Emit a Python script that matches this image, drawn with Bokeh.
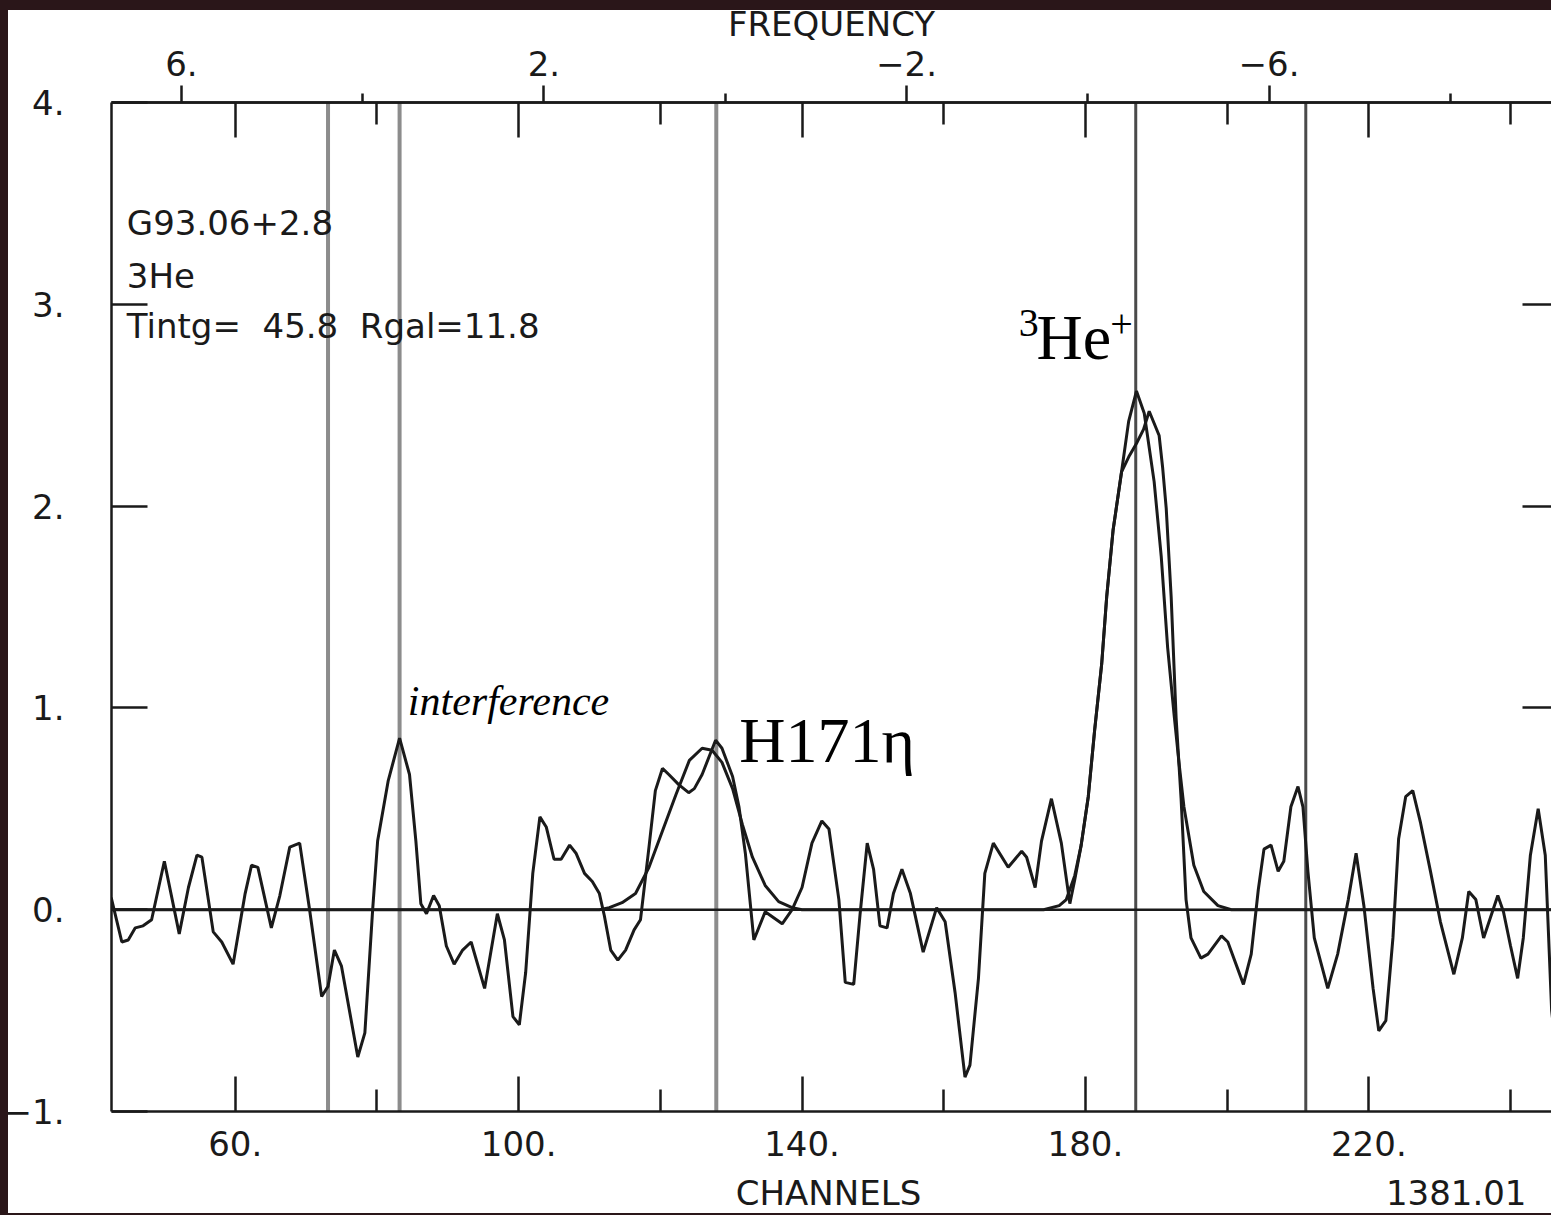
from bokeh.plotting import figure
from bokeh.models import (Range1d, LinearAxis, FixedTicker, Span, Label,
                          GlobalInlineStyleSheet)
from bokeh.embed import file_html
from bokeh.resources import INLINE

# ---------------- data ----------------
data_channel = [42.5, 44.0, 44.9, 45.9, 47.0, 48.2, 50.0, 52.1, 53.4, 54.6, 55.3, 56.9, 58.1, 59.7,
                61.4, 62.3, 63.2, 65.1, 66.3, 67.7, 69.1, 70.5, 72.2, 73.1, 74.0, 75.0, 77.3, 78.3,
                79.4, 80.1, 81.6, 83.2, 84.6, 85.5, 86.2, 87.0, 88.0, 88.8, 89.8, 90.9, 92.1, 93.3,
                95.2, 97.0, 98.0, 99.2, 100.1, 101.0, 102.0, 103.0, 103.9, 105.0, 106.0, 107.2,
                108.1, 109.3, 110.4, 111.4, 112.1, 113.0, 114.0, 115.1, 116.3, 117.2, 118.4, 119.3,
                120.3, 121.2, 122.6, 124.0, 124.8, 125.9, 127.8, 128.7, 130.2, 131.1, 132.0, 133.2,
                134.8, 137.2, 138.6, 140.0, 141.4, 142.8, 143.8, 145.2, 146.1, 147.3, 148.2, 149.2,
                150.1, 151.0, 152.0, 152.9, 154.1, 155.3, 157.1, 159.0, 160.2, 161.6, 163.0, 163.7,
                164.9, 165.8, 167.0, 169.1, 171.0, 171.7, 172.9, 173.8, 175.2, 176.6, 177.8, 178.5,
                179.4, 180.4, 181.3, 182.3, 183.0, 183.9, 185.1, 186.2, 187.2, 188.2, 189.0, 190.4,
                190.9, 191.4, 192.1, 192.8, 193.5, 194.2, 194.9, 196.3, 197.3, 199.2, 200.1, 202.3,
                203.4, 204.4, 205.2, 206.2, 207.2, 208.0, 209.0, 210.0, 210.7, 211.4, 212.3, 214.2,
                215.6, 217.1, 218.2, 219.3, 220.6, 221.4, 222.4, 223.4, 224.2, 225.2, 226.2, 227.3,
                228.7, 230.1, 232.0, 233.2, 234.1, 235.1, 236.2, 238.2, 239.0, 240.0, 241.0, 241.8,
                242.8, 243.9, 244.9, 245.8, 246.6]
data_value = [0.06, -0.16, -0.15, -0.09, -0.08, -0.05, 0.24, -0.12, 0.11, 0.27, 0.26, -0.11, -0.16, -0.27,
              0.08, 0.22, 0.21, -0.09, 0.07, 0.31, 0.33, 0.00, -0.43, -0.38, -0.20, -0.28, -0.73, -0.61,
              0.00, 0.34, 0.64, 0.85, 0.67, 0.34, 0.03, -0.02, 0.07, 0.02, -0.18, -0.27, -0.20, -0.16,
              -0.39, -0.02, -0.15, -0.53, -0.57, -0.31, 0.18, 0.46, 0.41, 0.25, 0.25, 0.32,
              0.28, 0.18, 0.14, 0.08, -0.03, -0.20, -0.25, -0.20, -0.10, -0.05, 0.31, 0.59,
              0.70, 0.67, 0.62, 0.58, 0.60, 0.67, 0.84, 0.80, 0.66, 0.51, 0.28, -0.15,
              -0.01, -0.07, 0.00, 0.11, 0.33, 0.44, 0.40, 0.05, -0.36, -0.37, -0.02, 0.33,
              0.20, -0.08, -0.09, 0.08, 0.20, 0.08, -0.21, 0.01, -0.06, -0.41, -0.83, -0.77,
              -0.34, 0.18, 0.33, 0.21, 0.29, 0.26, 0.11, 0.34, 0.55, 0.33, 0.03, 0.15,
              0.32, 0.56, 0.89, 1.22, 1.55, 1.88, 2.17, 2.25, 2.31, 2.38, 2.47, 2.35,
              2.19, 1.99, 1.55, 0.95, 0.55, 0.05, -0.14, -0.24, -0.22, -0.13, -0.16, -0.37,
              -0.22, 0.10, 0.30, 0.32, 0.19, 0.24, 0.51, 0.61, 0.51, 0.19, -0.14, -0.39,
              -0.22, 0.05, 0.28, 0.02, -0.39, -0.60, -0.55, -0.14, 0.35, 0.56, 0.59, 0.43,
              0.19, -0.06, -0.32, -0.14, 0.09, 0.05, -0.14, 0.07, -0.01, -0.18, -0.34, -0.14,
              0.27, 0.50, 0.27, -0.50, -0.75]

fit_channel = [42.5, 111.4, 112.8, 114.6, 116.5, 118.4, 120.3, 122.2, 124.1, 125.9, 127.3, 128.7,
               130.2, 131.6, 133.0, 134.8, 136.7, 138.6, 140.0, 174.1, 176.3, 177.3, 178.5, 179.4,
               180.4, 181.3, 182.3, 183.0, 183.9, 185.1, 186.1, 187.2, 188.3, 189.7, 190.7, 191.6,
               192.5, 193.2, 193.9, 195.3, 196.7, 198.7, 200.6, 246.6]
fit_value = [0.0, 0.0, 0.01, 0.035, 0.08, 0.21, 0.39, 0.57, 0.74, 0.80, 0.79, 0.73,
             0.60, 0.42, 0.26, 0.12, 0.04, 0.01, 0.0, 0.0, 0.02, 0.05, 0.17, 0.32,
             0.56, 0.89, 1.22, 1.55, 1.88, 2.17, 2.42, 2.57, 2.46, 2.12, 1.75, 1.30,
             0.97, 0.73, 0.51, 0.22, 0.09, 0.02, 0.0, 0.0]

marker_channels_light = [73.1, 83.2, 127.9]
marker_channels_dark = [187.1, 211.1]

chan_major_ticks = [60, 100, 140, 180, 220]
chan_major_labels = ["60.", "100.", "140.", "180.", "220."]
chan_minor_ticks = [80, 120, 160, 200, 240]

freq_major_ticks = [6, 2, -2, -6]
freq_major_labels = ["6.", "2.", "\u22122.", "\u22126."]
freq_minor_ticks = [4, 0, -4, -8]

y_ticks = [-1, 0, 1, 2, 3, 4]
y_tick_labels = ["\u22121.", "0.", "1.", "2.", "3.", "4."]
y_right_ticks = [1, 2, 3]

# footer line under the channel axis: axis title and plot id
footer_labels = ["CHANNELS", "1381.01"]
footer_positions = [143.74, 232.33]

info_lines = ["G93.06+2.8", "3He", "Tintg=\u00a0 45.8\u00a0 Rgal=11.8"]

# ---------------- figure ----------------
SANS = "DejaVu Sans"
SERIF = "Liberation Serif"
INK = "#1a1a1a"
LW = 2.5
DARK = "#2a1619"

p = figure(width=1551, height=1215,
           x_range=Range1d(42.54, 245.78), y_range=Range1d(-1.0, 4.0),
           output_backend="svg", toolbar_location=None,
           min_border_left=108, min_border_right=0, min_border_top=100, min_border_bottom=102)
p.extra_x_ranges = {"freq": Range1d(6.771, -9.116)}
p.grid.visible = False
p.outline_line_color = None
p.background_fill_color = "white"
p.border_fill_color = "white"
# page: no margin, plus the thin dark frame of the original scan drawn as an overlay
p.stylesheets = [GlobalInlineStyleSheet(css=(
    "html, body { overflow: hidden !important; } "
    "body { background: #ffffff !important; margin: 0 !important; padding: 0 !important; } "
    "body::before { content: ''; position: fixed; left: 0; top: 0; right: 0; bottom: 0; "
    f"border-top: 10px solid {DARK}; border-left: 8px solid {DARK}; border-bottom: 2px solid {DARK}; "
    "box-sizing: border-box; pointer-events: none; z-index: 100000; }"
))]


def style_axis(ax):
    ax.axis_line_color = INK
    ax.axis_line_width = LW
    ax.major_tick_line_color = INK
    ax.major_tick_line_width = LW
    ax.minor_tick_line_color = INK
    ax.minor_tick_line_width = LW
    ax.major_label_text_font = SANS
    ax.major_label_text_font_size = "34px"
    ax.major_label_text_color = INK
    ax.axis_label_text_font = SANS
    ax.axis_label_text_font_size = "34px"
    ax.axis_label_text_font_style = "normal"
    ax.axis_label_text_color = INK


def hide_labels(ax):
    ax.major_label_text_font_size = "1px"
    ax.major_label_text_color = None
    ax.major_label_standoff = 0


# bottom channel axis
xb = p.xaxis[0]
style_axis(xb)
xb.ticker = FixedTicker(ticks=chan_major_ticks, minor_ticks=chan_minor_ticks)
xb.major_label_overrides = dict(zip(chan_major_ticks, chan_major_labels))
xb.major_tick_in, xb.major_tick_out = 35, 0
xb.minor_tick_in, xb.minor_tick_out = 22, 0
xb.major_label_standoff = 19

# footer texts (axis title + plot id) as a label-only axis under it
xb2 = LinearAxis(ticker=FixedTicker(ticks=footer_positions, minor_ticks=[]))
style_axis(xb2)
xb2.major_label_overrides = dict(zip(footer_positions, footer_labels))
xb2.axis_line_color = None
xb2.major_tick_in, xb2.major_tick_out = 0, 0
xb2.minor_tick_in, xb2.minor_tick_out = 0, 0
xb2.major_label_standoff = 14
p.add_layout(xb2, "below")

# left intensity axis
yl = p.yaxis[0]
style_axis(yl)
yl.ticker = FixedTicker(ticks=y_ticks, minor_ticks=[])
yl.major_label_overrides = dict(zip(y_ticks, y_tick_labels))
yl.major_tick_in, yl.major_tick_out = 36, 0
yl.minor_tick_in, yl.minor_tick_out = 0, 0
yl.major_label_standoff = 47

# top inner channel ticks (no labels)
xt = LinearAxis(ticker=FixedTicker(ticks=chan_major_ticks, minor_ticks=chan_minor_ticks))
style_axis(xt)
xt.major_tick_in, xt.major_tick_out = 35, 0
xt.minor_tick_in, xt.minor_tick_out = 22, 0
hide_labels(xt)
p.add_layout(xt, "above")

# top frequency axis
xf = LinearAxis(x_range_name="freq",
                ticker=FixedTicker(ticks=freq_major_ticks, minor_ticks=freq_minor_ticks))
style_axis(xf)
xf.major_label_overrides = dict(zip(freq_major_ticks, freq_major_labels))
xf.major_tick_in, xf.major_tick_out = 0, 17
xf.minor_tick_in, xf.minor_tick_out = 0, 9
xf.major_label_standoff = 10
xf.axis_label = "FREQUENCY"
xf.axis_label_standoff = 4
p.add_layout(xf, "above")

# right inner ticks
yr = LinearAxis(ticker=FixedTicker(ticks=y_right_ticks, minor_ticks=[]))
style_axis(yr)
yr.axis_line_color = None
yr.major_tick_in, yr.major_tick_out = 29, 0
yr.minor_tick_in, yr.minor_tick_out = 0, 0
hide_labels(yr)
p.add_layout(yr, "right")

# vertical marker lines
for c in marker_channels_light:
    p.add_layout(Span(location=c, dimension="height", line_color="#8c8c8c",
                      line_width=4, level="underlay"))
for c in marker_channels_dark:
    p.add_layout(Span(location=c, dimension="height", line_color="#4a4a4a",
                      line_width=3, level="underlay"))

# zero line
p.add_layout(Span(location=0, dimension="width", line_color=INK, line_width=LW))

# spectrum and fit
p.line(data_channel, data_value, line_color=INK, line_width=3)
p.line(fit_channel, fit_value, line_color=INK, line_width=3)

# info text
for txt, yy in zip(info_lines, [3.403, 3.141, 2.890]):
    p.add_layout(Label(x=44.7, y=yy, text=txt, text_font=SANS, text_font_size="34px",
                       text_baseline="alphabetic", text_align="left", text_color=INK))

# line annotations
p.add_layout(Label(x=84.37, y=1.035, text="interference", text_font=SERIF,
                   text_font_style="italic", text_font_size="42px",
                   text_baseline="alphabetic", text_color="black"))
p.add_layout(Label(x=131.13, y=0.84, text="H171\u03b7", text_font=SERIF,
                   text_font_size="64px", text_baseline="alphabetic", text_color="black"))
p.add_layout(Label(x=170.6, y=2.905, text="3", text_font=SERIF,
                   text_font_size="40px", text_baseline="alphabetic", text_color="black"))
p.add_layout(Label(x=173.1, y=2.835, text="He", text_font=SERIF,
                   text_font_size="64px", text_baseline="alphabetic", text_color="black"))
p.add_layout(Label(x=183.52, y=2.9, text="+", text_font=SERIF,
                   text_font_size="40px", text_baseline="alphabetic", text_color="black"))

open("out.html", "w").write(file_html(p, INLINE))
